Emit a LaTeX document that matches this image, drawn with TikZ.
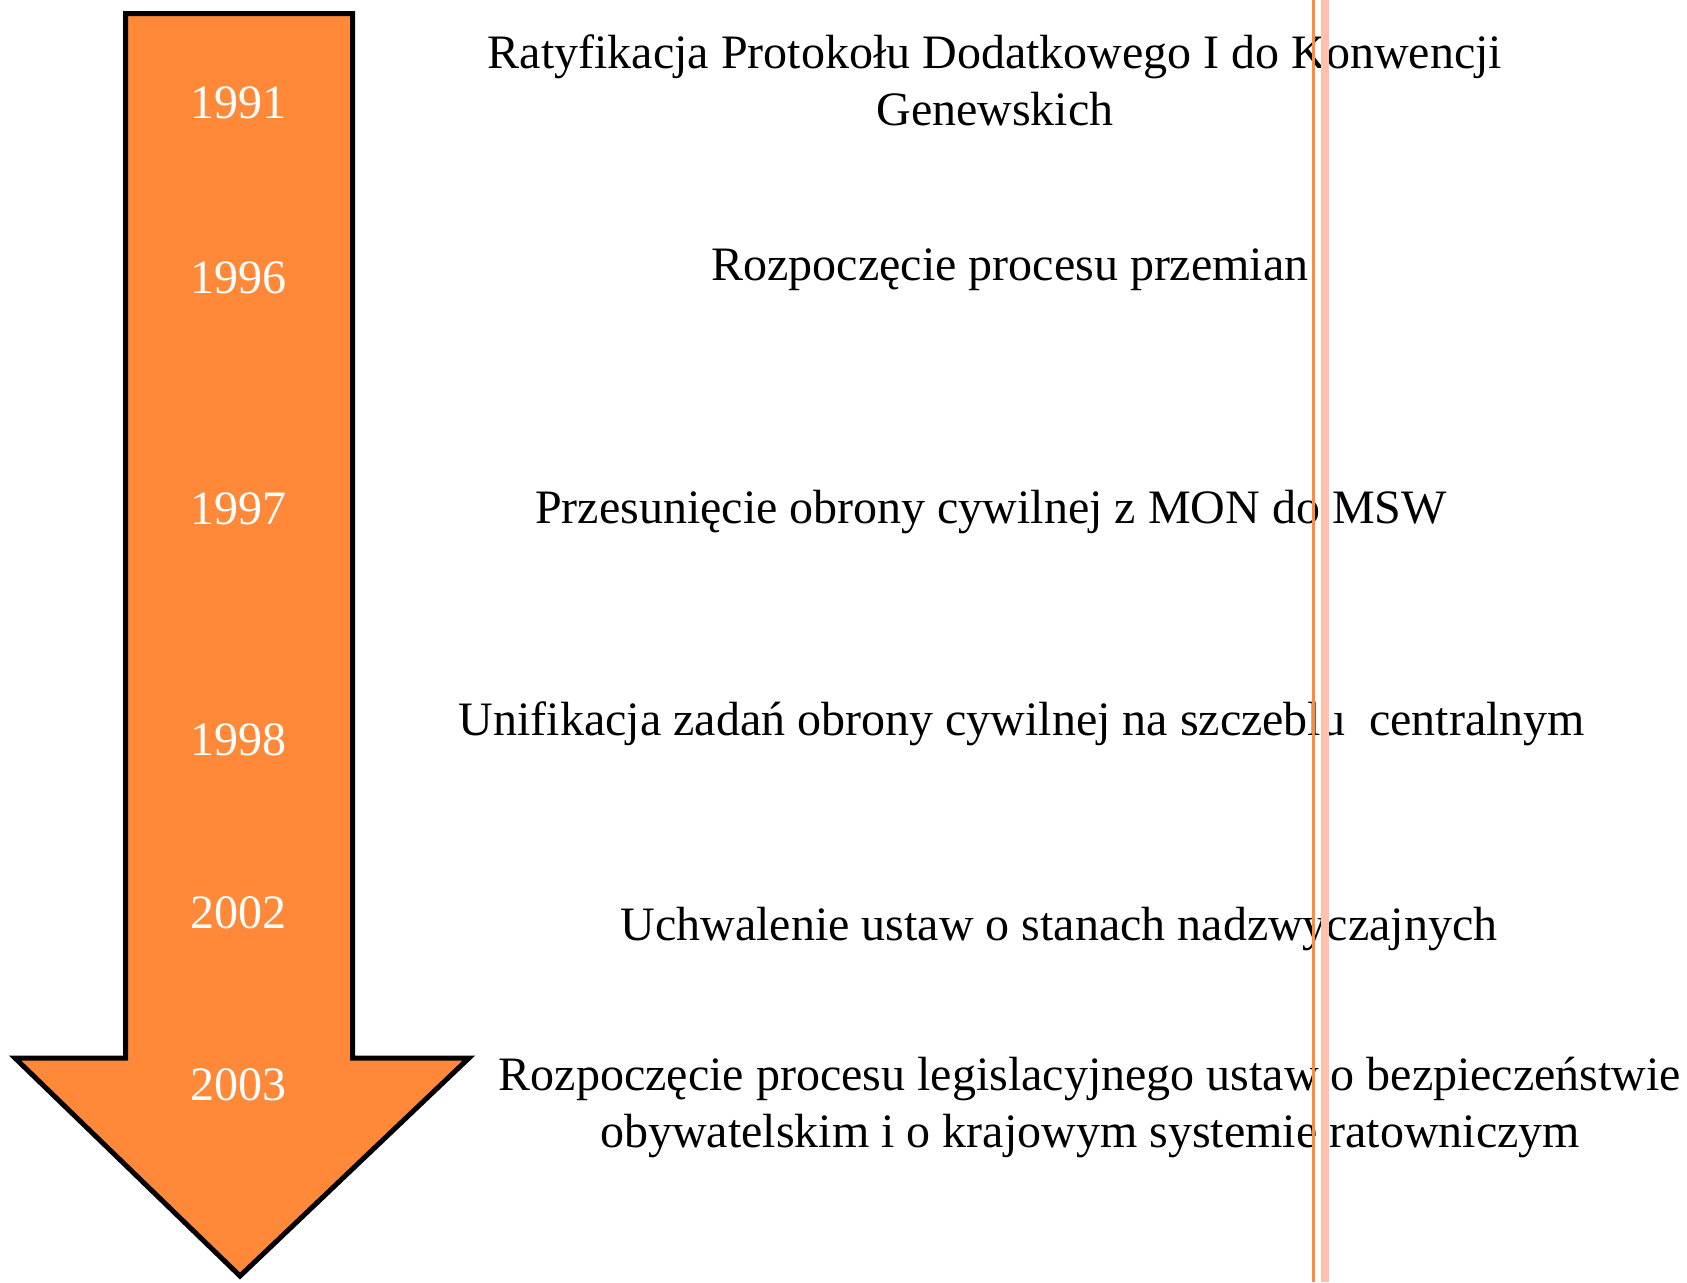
\documentclass[tikz,border=0pt]{standalone}
\usepackage{fontspec}
\setmainfont{Liberation Serif}
\usepackage[dvipsnames]{xcolor}
\usetikzlibrary{shapes.geometric, arrows, shapes}
\definecolor{arroworange}{RGB}{255,137,56}
\definecolor{lineorange}{RGB}{255,140,60}
\definecolor{linepink}{RGB}{255,193,171}
\tikzstyle{year} = [text=white, font=\fontsize{24}{28.5}\selectfont, anchor=base, inner sep=0pt]
\tikzstyle{event} = [text=black, font=\fontsize{24}{28.5}\selectfont, align=center, anchor=base, inner sep=0pt]
\tikzstyle{timeline} = [draw=black, line width=2.5pt, fill=arroworange]

\begin{document}
\begin{tikzpicture}[x=0.5pt, y=0.5pt, yscale=-1]
\useasboundingbox (0,0) rectangle (1687,1282);

\draw [timeline] (125.5,13.5) -- (352.5,13.5) -- (352.5,1058) -- (469,1058) -- (240,1276) -- (15,1058) -- (125.5,1058) -- cycle;

\node at (238, 118) (y1991) [year] {1991};
\node at (238, 293) (y1996) [year] {1996};
\node at (238, 524) (y1997) [year] {1997};
\node at (238, 755) (y1998) [year] {1998};
\node at (238, 928) (y2002) [year] {2002};
\node at (238, 1100) (y2003) [year] {2003};

\node at (995, 125) (ratyfikacja) [event] {Ratyfikacja Protokołu Dodatkowego I do Konwencji\\Genewskich};
\node at (1010, 280) (przemiany) [event] {Rozpoczęcie procesu przemian};
\node at (991, 523) (przesuniecie) [event] {Przesunięcie obrony cywilnej z MON do MSW};
\node at (1022, 735) (unifikacja) [event] {Unifikacja zadań obrony cywilnej na szczeblu~ centralnym};
\node at (1059, 940) (uchwalenie) [event] {Uchwalenie ustaw o stanach nadzwyczajnych};
\node at (1090, 1147) (legislacja) [event] {Rozpoczęcie procesu legislacyjnego ustaw o bezpieczeństwie\\obywatelskim i o krajowym systemie ratowniczym};

\draw [lineorange, line width=1.5pt] (1313.5,0) -- (1313.5,1282);
\fill [linepink] (1321,0) rectangle (1329,1282);

\end{tikzpicture}
\end{document}
